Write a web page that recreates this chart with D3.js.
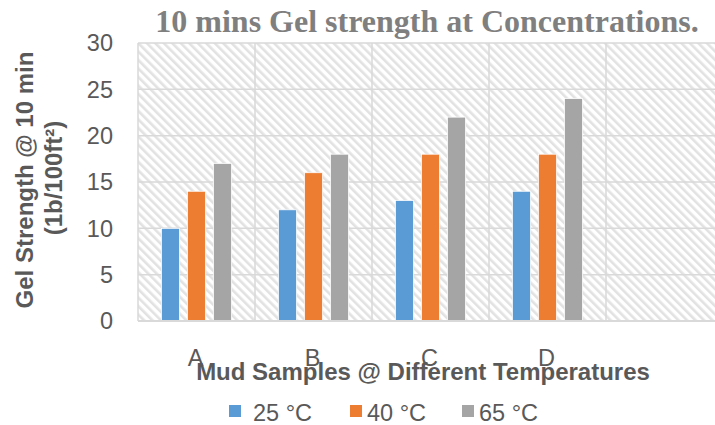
<!DOCTYPE html>
<html>
<head>
<meta charset="utf-8">
<script src="https://cdn.jsdelivr.net/npm/d3@7"></script>
<style>
  body { margin: 0; background: #fff; }
  text { font-family: "Liberation Sans", Arial, sans-serif; }
</style>
</head>
<body>
<div id="chart"></div>
<script>
// data
var categories = ["A", "B", "C", "D", ""];
var series = ["25 °C", "40 °C", "65 °C"];
var values25 = [10, 12, 13, 14];
var values40 = [14, 16, 18, 18];
var values65 = [17, 18, 22, 24];
var yTicks = [0, 5, 10, 15, 20, 25, 30];
var colors = ["#5b9bd5", "#ed7d31", "#a5a5a5"];

var width = 715,
    height = 425;

// plot area (runs a little past the right edge, as in the picture)
var plotL = 138, plotR = 723, plotT = 43, plotB = 321;

var svg = d3.select("#chart").append("svg")
    .attr("width", width)
    .attr("height", height);

// hatched background
var defs = svg.append("defs");
var pat = defs.append("pattern")
    .attr("id", "hatch")
    .attr("patternUnits", "userSpaceOnUse")
    .attr("width", 6)
    .attr("height", 6)
    .attr("patternTransform", "rotate(-45)");
pat.append("rect").attr("width", 6).attr("height", 6).attr("fill", "#fff");
pat.append("rect").attr("width", 2.6).attr("height", 6).attr("fill", "#e2e2e2");

var x0 = d3.scaleBand()
    .domain(categories)
    .range([plotL, plotR]);

var groupW = 70;
var x1 = d3.scaleBand()
    .domain(series)
    .range([(x0.bandwidth() - groupW) / 2, (x0.bandwidth() + groupW) / 2])
    .paddingInner(8 / 26);

var y = d3.scaleLinear()
    .domain([0, 30])
    .range([plotB, plotT]);

svg.append("rect")
    .attr("x", plotL)
    .attr("y", plotT)
    .attr("width", plotR - plotL)
    .attr("height", plotB - plotT)
    .attr("fill", "url(#hatch)");

// horizontal gridlines
svg.append("g")
    .selectAll("line")
    .data(yTicks)
  .enter().append("line")
    .attr("x1", plotL)
    .attr("x2", plotR)
    .attr("y1", function(d) { return y(d); })
    .attr("y2", function(d) { return y(d); })
    .attr("stroke", "#d9d9d9")
    .attr("stroke-width", 1.5);

// vertical gridlines between categories
var bounds = categories.map(function(c) { return x0(c); }).concat([plotR]);
svg.append("g")
    .selectAll("line")
    .data(bounds)
  .enter().append("line")
    .attr("x1", function(d) { return d; })
    .attr("x2", function(d) { return d; })
    .attr("y1", plotT)
    .attr("y2", plotB)
    .attr("stroke", "#d9d9d9")
    .attr("stroke-width", 1.5);

// bars
var data = categories.slice(0, 4).map(function(c, i) {
  return { cat: c, vals: [values25[i], values40[i], values65[i]] };
});

var g = svg.append("g").selectAll("g")
    .data(data)
  .enter().append("g")
    .attr("transform", function(d) { return "translate(" + x0(d.cat) + ",0)"; });

g.selectAll("rect")
    .data(function(d) { return d.vals.map(function(v, i) { return { s: series[i], v: v, i: i }; }); })
  .enter().append("rect")
    .attr("x", function(d) { return x1(d.s); })
    .attr("width", x1.bandwidth())
    .attr("y", function(d) { return y(d.v); })
    .attr("height", function(d) { return y(0) - y(d.v); })
    .attr("fill", function(d) { return colors[d.i]; })
    .attr("stroke", "#fff")
    .attr("stroke-width", 0.75);

// bottom axis line
svg.append("line")
    .attr("x1", plotL)
    .attr("x2", plotR)
    .attr("y1", plotB)
    .attr("y2", plotB)
    .attr("stroke", "#d9d9d9")
    .attr("stroke-width", 2);

// y tick labels
svg.append("g")
    .selectAll("text")
    .data(yTicks)
  .enter().append("text")
    .attr("x", 113)
    .attr("y", function(d) { return y(d); })
    .attr("dy", "0.36em")
    .attr("text-anchor", "end")
    .attr("font-size", "23.5px")
    .attr("fill", "#595959")
    .text(function(d) { return d; });

// x tick labels
svg.append("g")
    .selectAll("text")
    .data(categories)
  .enter().append("text")
    .attr("x", function(d) { return x0(d) + x0.bandwidth() / 2 - 1; })
    .attr("y", 366)
    .attr("text-anchor", "middle")
    .attr("font-size", "23.5px")
    .attr("fill", "#595959")
    .text(function(d) { return d; });

// titles
svg.append("text")
    .attr("x", 427)
    .attr("y", 32)
    .attr("text-anchor", "middle")
    .style("font-family", "'Liberation Serif', 'Times New Roman', serif")
    .attr("font-size", "32px")
    .attr("font-weight", "bold")
    .attr("fill", "#7f7f7f")
    .text("10 mins Gel strength at Concentrations.");

svg.append("text")
    .attr("x", 423)
    .attr("y", 380)
    .attr("text-anchor", "middle")
    .attr("font-size", "24px")
    .attr("font-weight", "bold")
    .attr("fill", "#595959")
    .text("Mud Samples @ Different Temperatures");

var yTitle = svg.append("text")
    .attr("transform", "rotate(-90)")
    .attr("text-anchor", "middle")
    .attr("font-size", "24px")
    .attr("font-weight", "bold")
    .attr("fill", "#595959");
yTitle.append("tspan")
    .attr("x", -180)
    .attr("y", 33)
    .text("Gel Strength @ 10 min");
yTitle.append("tspan")
    .attr("x", -178)
    .attr("y", 62)
    .text("(1b/100ft²)");

// legend
var legendX = [229, 350, 462];
var textGap = [24, 17, 17];
var legend = svg.append("g").selectAll("g")
    .data(series)
  .enter().append("g")
    .attr("transform", function(d, i) { return "translate(" + legendX[i] + ",405)"; });

legend.append("rect")
    .attr("width", 12)
    .attr("height", 12)
    .attr("fill", function(d, i) { return colors[i]; });

legend.append("text")
    .attr("x", function(d, i) { return textGap[i]; })
    .attr("y", 16)
    .attr("font-size", "23.5px")
    .attr("fill", "#595959")
    .text(function(d) { return d; });
</script>
</body>
</html>
